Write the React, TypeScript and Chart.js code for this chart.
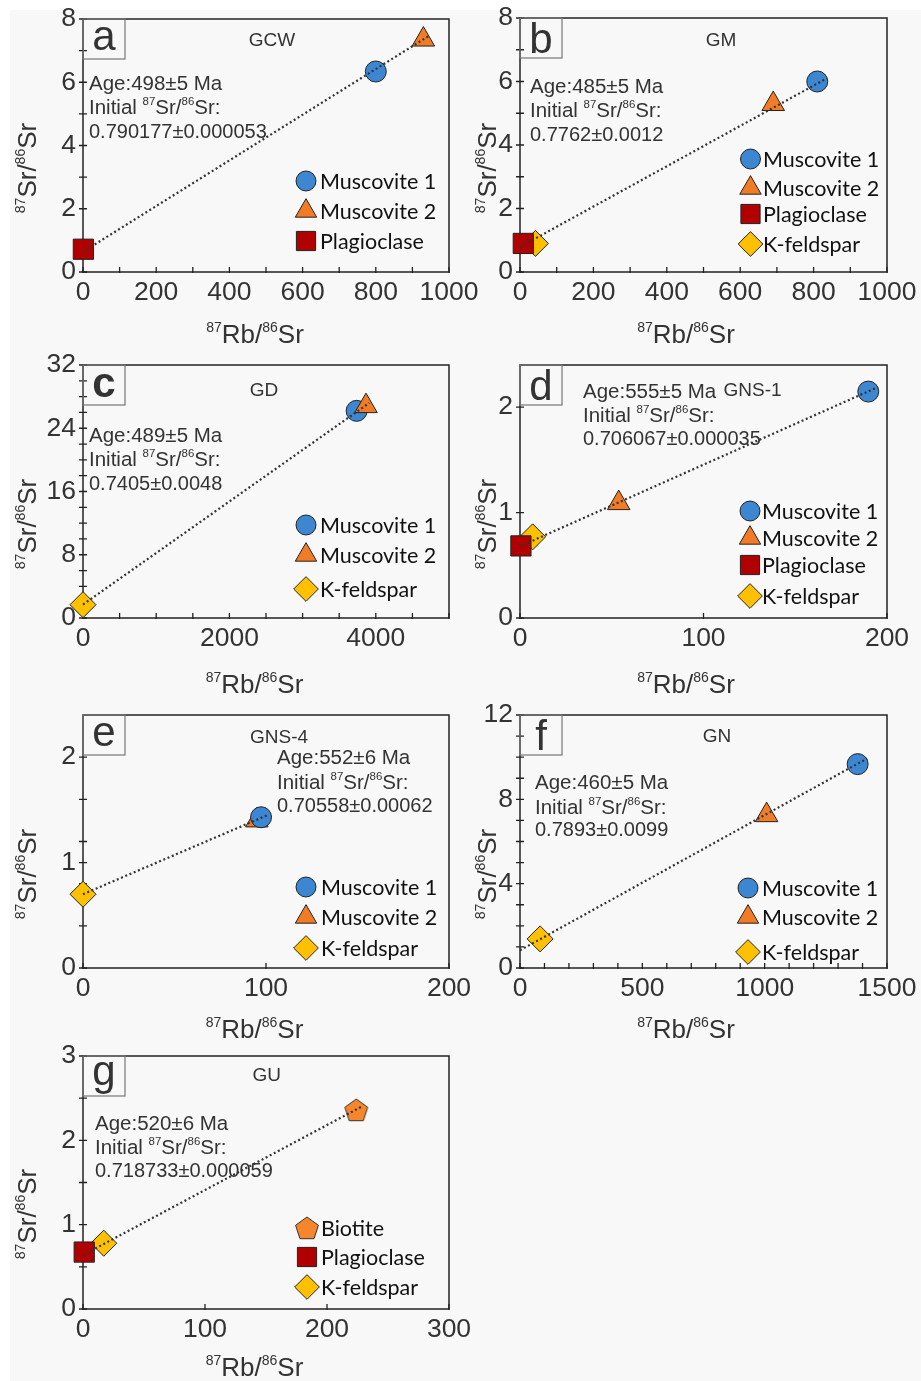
import React, { useEffect, useRef } from 'react';
import { Chart, registerables } from 'chart.js';
import { drawPoint } from 'chart.js/helpers';

Chart.register(...registerables);

const W = 921;
const H = 1381;
const FONT = "'Liberation Sans', Arial, sans-serif";
const LEGEND_FONT = "Lato, 'Open Sans', sans-serif";

// ---------------- data ----------------
// a: GCW
const aMinerals = ['Muscovite 1', 'Muscovite 2', 'Plagioclase'];
const aRb = [800, 930, 1];
const aSr = [6.34, 7.35, 0.72];
const aFitRb = [0, 943];
const aFitSr = [0.64, 7.45];
const aAge = 'Age:498±5 Ma';
const aInitial = '0.790177±0.000053';
const aXTicks = [0, 100, 200, 300, 400, 500, 600, 700, 800, 900, 1000];
const aXLabels = [0, 200, 400, 600, 800, 1000];
const aYTicks = [0, 1, 2, 3, 4, 5, 6, 7, 8];
const aYLabels = [0, 2, 4, 6, 8];

// b: GM
const bMinerals = ['Muscovite 1', 'Muscovite 2', 'Plagioclase', 'K-feldspar'];
const bRb = [810, 690, 9, 42];
const bSr = [6.0, 5.29, 0.9, 0.9];
const bFitRb = [0, 836];
const bFitSr = [0.79, 6.1];
const bAge = 'Age:485±5 Ma';
const bInitial = '0.7762±0.0012';
const bXTicks = [0, 100, 200, 300, 400, 500, 600, 700, 800, 900, 1000];
const bXLabels = [0, 200, 400, 600, 800, 1000];
const bYTicks = [0, 1, 2, 3, 4, 5, 6, 7, 8];
const bYLabels = [0, 2, 4, 6, 8];

// c: GD
const cMinerals = ['Muscovite 1', 'Muscovite 2', 'K-feldspar'];
const cRb = [3738, 3866, 0];
const cSr = [26.2, 26.8, 1.68];
const cFitRb = [0, 3911];
const cFitSr = [1.7, 27.2];
const cAge = 'Age:489±5 Ma';
const cInitial = '0.7405±0.0048';
const cXTicks = [0, 500, 1000, 1500, 2000, 2500, 3000, 3500, 4000, 4500, 5000];
const cXLabels = [0, 2000, 4000];
const cYTicks = [0, 2, 4, 6, 8, 10, 12, 14, 16, 18, 20, 22, 24, 26, 28, 30, 32];
const cYLabels = [0, 8, 16, 24, 32];

// d: GNS-1
const dMinerals = ['Muscovite 1', 'Muscovite 2', 'Plagioclase', 'K-feldspar'];
const dRb = [189.8, 53.8, 0.5, 6.9];
const dSr = [2.148, 1.09, 0.684, 0.77];
const dFitRb = [0, 195];
const dFitSr = [0.68, 2.19];
const dAge = 'Age:555±5 Ma';
const dInitial = '0.706067±0.000035';
const dXTicks = [0, 100, 200];
const dXLabels = [0, 100, 200];
const dYTicks = [0, 1, 2];
const dYLabels = [0, 1, 2];

// e: GNS-4
const eMinerals = ['Muscovite 1', 'Muscovite 2', 'K-feldspar'];
const eRb = [97.3, 95, 0];
const eSr = [1.43, 1.4, 0.7];
const eFitRb = [0, 100.4];
const eFitSr = [0.7, 1.447];
const eAge = 'Age:552±6 Ma';
const eInitial = '0.70558±0.00062';
const eXTicks = [0, 100, 200];
const eXLabels = [0, 100, 200];
const eYTicks = [0, 0.4, 0.8, 1, 1.2, 1.6, 2];
const eYLabels = [0, 1, 2];

// f: GN
const fMinerals = ['Muscovite 1', 'Muscovite 2', 'K-feldspar'];
const fRb = [1380, 1008, 82];
const fSr = [9.67, 7.25, 1.38];
const fFitRb = [0, 1419];
const fFitSr = [0.84, 9.94];
const fAge = 'Age:460±5 Ma';
const fInitial = '0.7893±0.0099';
const fXTicks = [0, 100, 200, 300, 400, 500, 600, 700, 800, 900, 1000, 1100, 1200, 1300, 1400, 1500];
const fXLabels = [0, 500, 1000, 1500];
const fYTicks = [0, 1, 2, 3, 4, 5, 6, 7, 8, 9, 10, 11, 12];
const fYLabels = [0, 4, 8, 12];

// g: GU
const gMinerals = ['Biotite', 'Plagioclase', 'K-feldspar'];
const gRb = [224, 1, 17];
const gSr = [2.36, 0.675, 0.78];
const gFitRb = [0, 228.4];
const gFitSr = [0.64, 2.4];
const gAge = 'Age:520±6 Ma';
const gInitial = '0.718733±0.000059';
const gXTicks = [0, 100, 200, 300];
const gXLabels = [0, 100, 200, 300];
const gYTicks = [0, 0.5, 1, 1.5, 2, 2.5, 3];
const gYLabels = [0, 1, 2, 3];

const X_TITLE = '{87}Rb/{86}Sr';
const Y_TITLE = '{87}Sr/{86}Sr';
const INITIAL_LABEL = 'Initial {87}Sr/{86}Sr:';

// ---------------- styles ----------------
let pentagonCanvas: HTMLCanvasElement | null = null;
function getPentagon(): HTMLCanvasElement {
  if (pentagonCanvas) return pentagonCanvas;
  const c = document.createElement('canvas');
  c.width = 28;
  c.height = 28;
  const ctx = c.getContext('2d')!;
  ctx.beginPath();
  for (let i = 0; i < 5; i++) {
    const a = -Math.PI / 2 + (i * 2 * Math.PI) / 5;
    const x = 14 + 12 * Math.cos(a);
    const y = 15 + 12 * Math.sin(a);
    if (i === 0) ctx.moveTo(x, y);
    else ctx.lineTo(x, y);
  }
  ctx.closePath();
  ctx.fillStyle = '#f5862c';
  ctx.fill();
  ctx.lineWidth = 1;
  ctx.strokeStyle = '#333';
  ctx.stroke();
  pentagonCanvas = c;
  return c;
}

function mineralStyle(name: string): { pointStyle: any; color: string; radius: number } {
  switch (name) {
    case 'Muscovite 1':
      return { pointStyle: 'circle', color: '#3d86d1', radius: 10.5 };
    case 'Muscovite 2':
      return { pointStyle: 'triangle', color: '#f27c25', radius: 13 };
    case 'Plagioclase':
      return { pointStyle: 'rect', color: '#b10000', radius: 14.3 };
    case 'K-feldspar':
      return { pointStyle: 'rectRot', color: '#ffc000', radius: 13 };
    default:
      return { pointStyle: getPentagon(), color: '#f5862c', radius: 12 };
  }
}

// ---------------- layout ----------------
type Panel = {
  id: string;
  letter: string;
  letterBold?: boolean;
  letterBase: number;
  name: string;
  nameXY: [number, number];
  L: number; T: number; R: number; B: number;
  xMax: number; yMax: number;
  xTicks: number[]; xLabels: number[];
  yTicks: number[]; yLabels: number[];
  minerals: string[]; rb: number[]; sr: number[];
  order: number[];
  fitRb: number[]; fitSr: number[];
  age: string; initial: string;
  annotX: number; annotY: number[];
  legendX: number; legendTextX: number; legendRows: number[];
  xTitle: [number, number]; yTitle: [number, number];
};

const panels: Panel[] = [
  {
    id: 'a', letter: 'a', letterBase: 50, name: 'GCW', nameXY: [272, 46],
    L: 83, T: 19, R: 449, B: 272, xMax: 1000, yMax: 8,
    xTicks: aXTicks, xLabels: aXLabels, yTicks: aYTicks, yLabels: aYLabels,
    minerals: aMinerals, rb: aRb, sr: aSr, order: [1, 2, 3], fitRb: aFitRb, fitSr: aFitSr,
    age: aAge, initial: aInitial, annotX: 89, annotY: [90, 114, 138],
    legendX: 306, legendTextX: 320, legendRows: [181, 211, 241],
    xTitle: [255, 343], yTitle: [35.5, 168],
  },
  {
    id: 'b', letter: 'b', letterBase: 53, name: 'GM', nameXY: [721, 46],
    L: 520, T: 18, R: 887, B: 272, xMax: 1000, yMax: 8,
    xTicks: bXTicks, xLabels: bXLabels, yTicks: bYTicks, yLabels: bYLabels,
    minerals: bMinerals, rb: bRb, sr: bSr, order: [1, 2, 3, 4], fitRb: bFitRb, fitSr: bFitSr,
    age: bAge, initial: bInitial, annotX: 530, annotY: [93, 117, 141],
    legendX: 750.5, legendTextX: 763, legendRows: [159, 188, 214, 244],
    xTitle: [686, 343], yTitle: [495.5, 168],
  },
  {
    id: 'c', letter: 'c', letterBold: true, letterBase: 397, name: 'GD', nameXY: [264, 396],
    L: 83, T: 365, R: 449, B: 618, xMax: 5000, yMax: 32,
    xTicks: cXTicks, xLabels: cXLabels, yTicks: cYTicks, yLabels: cYLabels,
    minerals: cMinerals, rb: cRb, sr: cSr, order: [2, 1, 3], fitRb: cFitRb, fitSr: cFitSr,
    age: cAge, initial: cInitial, annotX: 89, annotY: [442, 466, 490],
    legendX: 306, legendTextX: 320, legendRows: [525, 555, 589],
    xTitle: [254.5, 693], yTitle: [35.5, 524],
  },
  {
    id: 'd', letter: 'd', letterBase: 400, name: 'GNS-1', nameXY: [752.5, 396],
    L: 520, T: 365, R: 887, B: 618, xMax: 200, yMax: 2.4,
    xTicks: dXTicks, xLabels: dXLabels, yTicks: dYTicks, yLabels: dYLabels,
    minerals: dMinerals, rb: dRb, sr: dSr, order: [1, 2, 3, 4], fitRb: dFitRb, fitSr: dFitSr,
    age: dAge, initial: dInitial, annotX: 583, annotY: [398, 422, 445],
    legendX: 750, legendTextX: 762, legendRows: [511, 538, 565, 596],
    xTitle: [686, 693], yTitle: [495.5, 524],
  },
  {
    id: 'e', letter: 'e', letterBase: 746, name: 'GNS-4', nameXY: [279, 743],
    L: 83, T: 715, R: 449, B: 968, xMax: 200, yMax: 2.4,
    xTicks: eXTicks, xLabels: eXLabels, yTicks: eYTicks, yLabels: eYLabels,
    minerals: eMinerals, rb: eRb, sr: eSr, order: [1, 2, 3], fitRb: eFitRb, fitSr: eFitSr,
    age: eAge, initial: eInitial, annotX: 277, annotY: [764, 789, 812],
    legendX: 306, legendTextX: 321, legendRows: [887, 917, 948],
    xTitle: [254.5, 1038], yTitle: [35.5, 874],
  },
  {
    id: 'f', letter: 'f', letterBase: 750, name: 'GN', nameXY: [717, 742],
    L: 520, T: 715, R: 887, B: 968, xMax: 1500, yMax: 12,
    xTicks: fXTicks, xLabels: fXLabels, yTicks: fYTicks, yLabels: fYLabels,
    minerals: fMinerals, rb: fRb, sr: fSr, order: [1, 2, 3], fitRb: fFitRb, fitSr: fFitSr,
    age: fAge, initial: fInitial, annotX: 535, annotY: [789, 814, 836],
    legendX: 748, legendTextX: 762, legendRows: [888, 917, 952],
    xTitle: [686, 1038], yTitle: [495.5, 874],
  },
  {
    id: 'g', letter: 'g', letterBase: 1085, name: 'GU', nameXY: [266.7, 1081],
    L: 83, T: 1056, R: 449, B: 1309, xMax: 300, yMax: 3,
    xTicks: gXTicks, xLabels: gXLabels, yTicks: gYTicks, yLabels: gYLabels,
    minerals: gMinerals, rb: gRb, sr: gSr, order: [1, 2, 3], fitRb: gFitRb, fitSr: gFitSr,
    age: gAge, initial: gInitial, annotX: 95, annotY: [1130, 1154, 1177],
    legendX: 307, legendTextX: 321, legendRows: [1228, 1257, 1287],
    xTitle: [254.5, 1376], yTitle: [35.5, 1214],
  },
];

// ---------------- helpers ----------------
function richParts(s: string) {
  const out: { t: string; sup: boolean }[] = [];
  const re = /\{([^}]*)\}|([^{]+)/g;
  let m: RegExpExecArray | null;
  while ((m = re.exec(s))) {
    if (m[1] !== undefined) out.push({ t: m[1], sup: true });
    else out.push({ t: m[2], sup: false });
  }
  return out;
}

function drawRich(
  ctx: CanvasRenderingContext2D, s: string, x: number, y: number,
  size: number, color: string, align: 'left' | 'center', supRatio = 0.56, raise = 0.4
) {
  const parts = richParts(s);
  const supSize = size * supRatio;
  const widths = parts.map((p) => {
    ctx.font = `${p.sup ? supSize : size}px ${FONT}`;
    return ctx.measureText(p.t).width;
  });
  const total = widths.reduce((a, b) => a + b, 0);
  let cx = align === 'center' ? x - total / 2 : x;
  ctx.textAlign = 'left';
  ctx.textBaseline = 'alphabetic';
  ctx.fillStyle = color;
  parts.forEach((p, i) => {
    ctx.font = `${p.sup ? supSize : size}px ${FONT}`;
    ctx.fillText(p.t, cx, p.sup ? y - size * raise : y);
    cx += widths[i];
  });
}

const YW = 60;
const XH = 40;

function scaleCfg(axis: 'x' | 'y', max: number, ticks: number[], labels: number[]) {
  return {
    type: 'linear' as const,
    min: 0,
    max,
    afterBuildTicks: (s: any) => {
      s.ticks = ticks.map((v) => ({ value: v }));
    },
    afterFit: (s: any) => {
      if (axis === 'x') s.height = XH;
      else s.width = YW;
      s.paddingLeft = 0;
      s.paddingRight = 0;
      s.paddingTop = 0;
      s.paddingBottom = 0;
    },
    grid: { display: false, drawTicks: false },
    border: { display: false },
    ticks: {
      autoSkip: false,
      maxRotation: 0,
      minRotation: 0,
      padding: axis === 'x' ? 5 : 7,
      color: '#333',
      font: { family: FONT, size: 26.5 },
      callback: (v: any) => (labels.includes(Number(v)) ? String(v) : ''),
    },
  };
}

function decorPlugin(p: Panel) {
  return {
    id: 'decor' + p.id,
    beforeDatasetsDraw(chart: any) {
      const ctx: CanvasRenderingContext2D = chart.ctx;
      const xs = chart.scales.x;
      const ys = chart.scales.y;
      const { left, top, right, bottom } = chart.chartArea;
      ctx.save();
      // plot frame
      ctx.strokeStyle = '#222';
      ctx.lineWidth = 1.5;
      ctx.strokeRect(left, top, right - left, bottom - top);
      // tick marks
      ctx.lineWidth = 1.3;
      ctx.beginPath();
      xs.ticks.forEach((t: any) => {
        const px = xs.getPixelForValue(t.value);
        ctx.moveTo(px, bottom - 5);
        ctx.lineTo(px, bottom + 1);
      });
      ys.ticks.forEach((t: any) => {
        const py = ys.getPixelForValue(t.value);
        ctx.moveTo(left - 4, py);
        ctx.lineTo(left + 4, py);
      });
      ctx.stroke();

      // letter box
      ctx.strokeStyle = '#777';
      ctx.lineWidth = 1.2;
      ctx.strokeRect(left, top, 42, 40);
      ctx.fillStyle = '#333';
      ctx.textAlign = 'center';
      ctx.textBaseline = 'alphabetic';
      ctx.font = `${p.letterBold ? 'bold ' : ''}42px ${FONT}`;
      ctx.fillText(p.letter, left + 21, p.letterBase);

      // sample name
      ctx.font = `19px ${FONT}`;
      ctx.fillStyle = '#333';
      ctx.fillText(p.name, p.nameXY[0], p.nameXY[1]);

      // annotation
      ctx.textAlign = 'left';
      ctx.font = `20.5px ${FONT}`;
      ctx.fillText(p.age, p.annotX, p.annotY[0]);
      drawRich(ctx, INITIAL_LABEL, p.annotX, p.annotY[1], 20.5, '#333', 'left', 0.56, 0.42);
      ctx.font = `20px ${FONT}`;
      ctx.textAlign = 'left';
      ctx.fillStyle = '#333';
      ctx.fillText(p.initial, p.annotX, p.annotY[2]);

      // legend
      p.minerals.forEach((m, i) => {
        const st = mineralStyle(m);
        const y = p.legendRows[i];
        ctx.fillStyle = st.color;
        ctx.strokeStyle = '#222';
        ctx.lineWidth = 1;
        drawPoint(ctx, { pointStyle: st.pointStyle, radius: st.radius * 0.95, rotation: 0, borderWidth: 1 } as any, p.legendX, y);
        ctx.fillStyle = '#111';
        ctx.font = `21.5px ${LEGEND_FONT}`;
        ctx.textAlign = 'left';
        ctx.textBaseline = 'alphabetic';
        ctx.fillText(m, p.legendTextX, y + 7.5);
      });

      // axis titles
      drawRich(ctx, X_TITLE, p.xTitle[0], p.xTitle[1], 26, '#333', 'center', 0.54, 0.42);
      ctx.save();
      ctx.translate(p.yTitle[0], p.yTitle[1]);
      ctx.rotate(-Math.PI / 2);
      drawRich(ctx, Y_TITLE, 0, 0, 26, '#333', 'center', 0.54, 0.42);
      ctx.restore();

      ctx.restore();
    },
  };
}

function buildConfig(p: Panel): any {
  const pointSets = p.minerals.map((m, i) => {
    const st = mineralStyle(m);
    return {
      label: m,
      data: [{ x: p.rb[i], y: p.sr[i] }],
      pointStyle: st.pointStyle,
      pointRadius: st.radius,
      pointHoverRadius: st.radius,
      pointBackgroundColor: st.color,
      pointBorderColor: '#222',
      pointBorderWidth: 1,
      showLine: false,
      clip: false,
      order: p.order[i],
    };
  });
  const fit = {
    label: 'isochron',
    type: 'line',
    data: p.fitRb.map((x, i) => ({ x, y: p.fitSr[i] })),
    borderColor: '#333',
    borderWidth: 2.2,
    borderDash: [2, 2.6],
    pointRadius: 0,
    showLine: true,
    fill: false,
    tension: 0,
    clip: false,
    order: 0,
  };
  return {
    type: 'scatter',
    data: { datasets: [fit, ...pointSets] },
    options: {
      animation: false,
      responsive: false,
      maintainAspectRatio: false,
      devicePixelRatio: 1,
      events: [],
      layout: {
        padding: { left: p.L - YW, top: p.T, right: W - p.R, bottom: H - p.B - XH },
      },
      plugins: { legend: { display: false }, tooltip: { enabled: false }, title: { display: false } },
      scales: {
        x: scaleCfg('x', p.xMax, p.xTicks, p.xLabels),
        y: scaleCfg('y', p.yMax, p.yTicks, p.yLabels),
      },
    },
    plugins: [decorPlugin(p)],
  };
}

function PanelChart({ p }: { p: Panel }) {
  const ref = useRef<HTMLCanvasElement>(null);
  useEffect(() => {
    const chart = new Chart(ref.current!, buildConfig(p));
    return () => chart.destroy();
  }, [p]);
  return (
    <canvas
      ref={ref}
      width={W}
      height={H}
      style={{ position: 'absolute', left: 0, top: 0, width: W, height: H, display: 'block' }}
    />
  );
}

export default function App() {
  return (
    <div style={{ position: 'absolute', left: 0, top: 0, width: W, height: H, overflow: 'hidden', background: '#ffffff' }}>
      <div style={{ position: 'absolute', left: 10, top: 10, width: W - 10, height: H - 10, background: '#f8f8f8' }} />
      {panels.map((p) => (
        <PanelChart key={p.id} p={p} />
      ))}
    </div>
  );
}
